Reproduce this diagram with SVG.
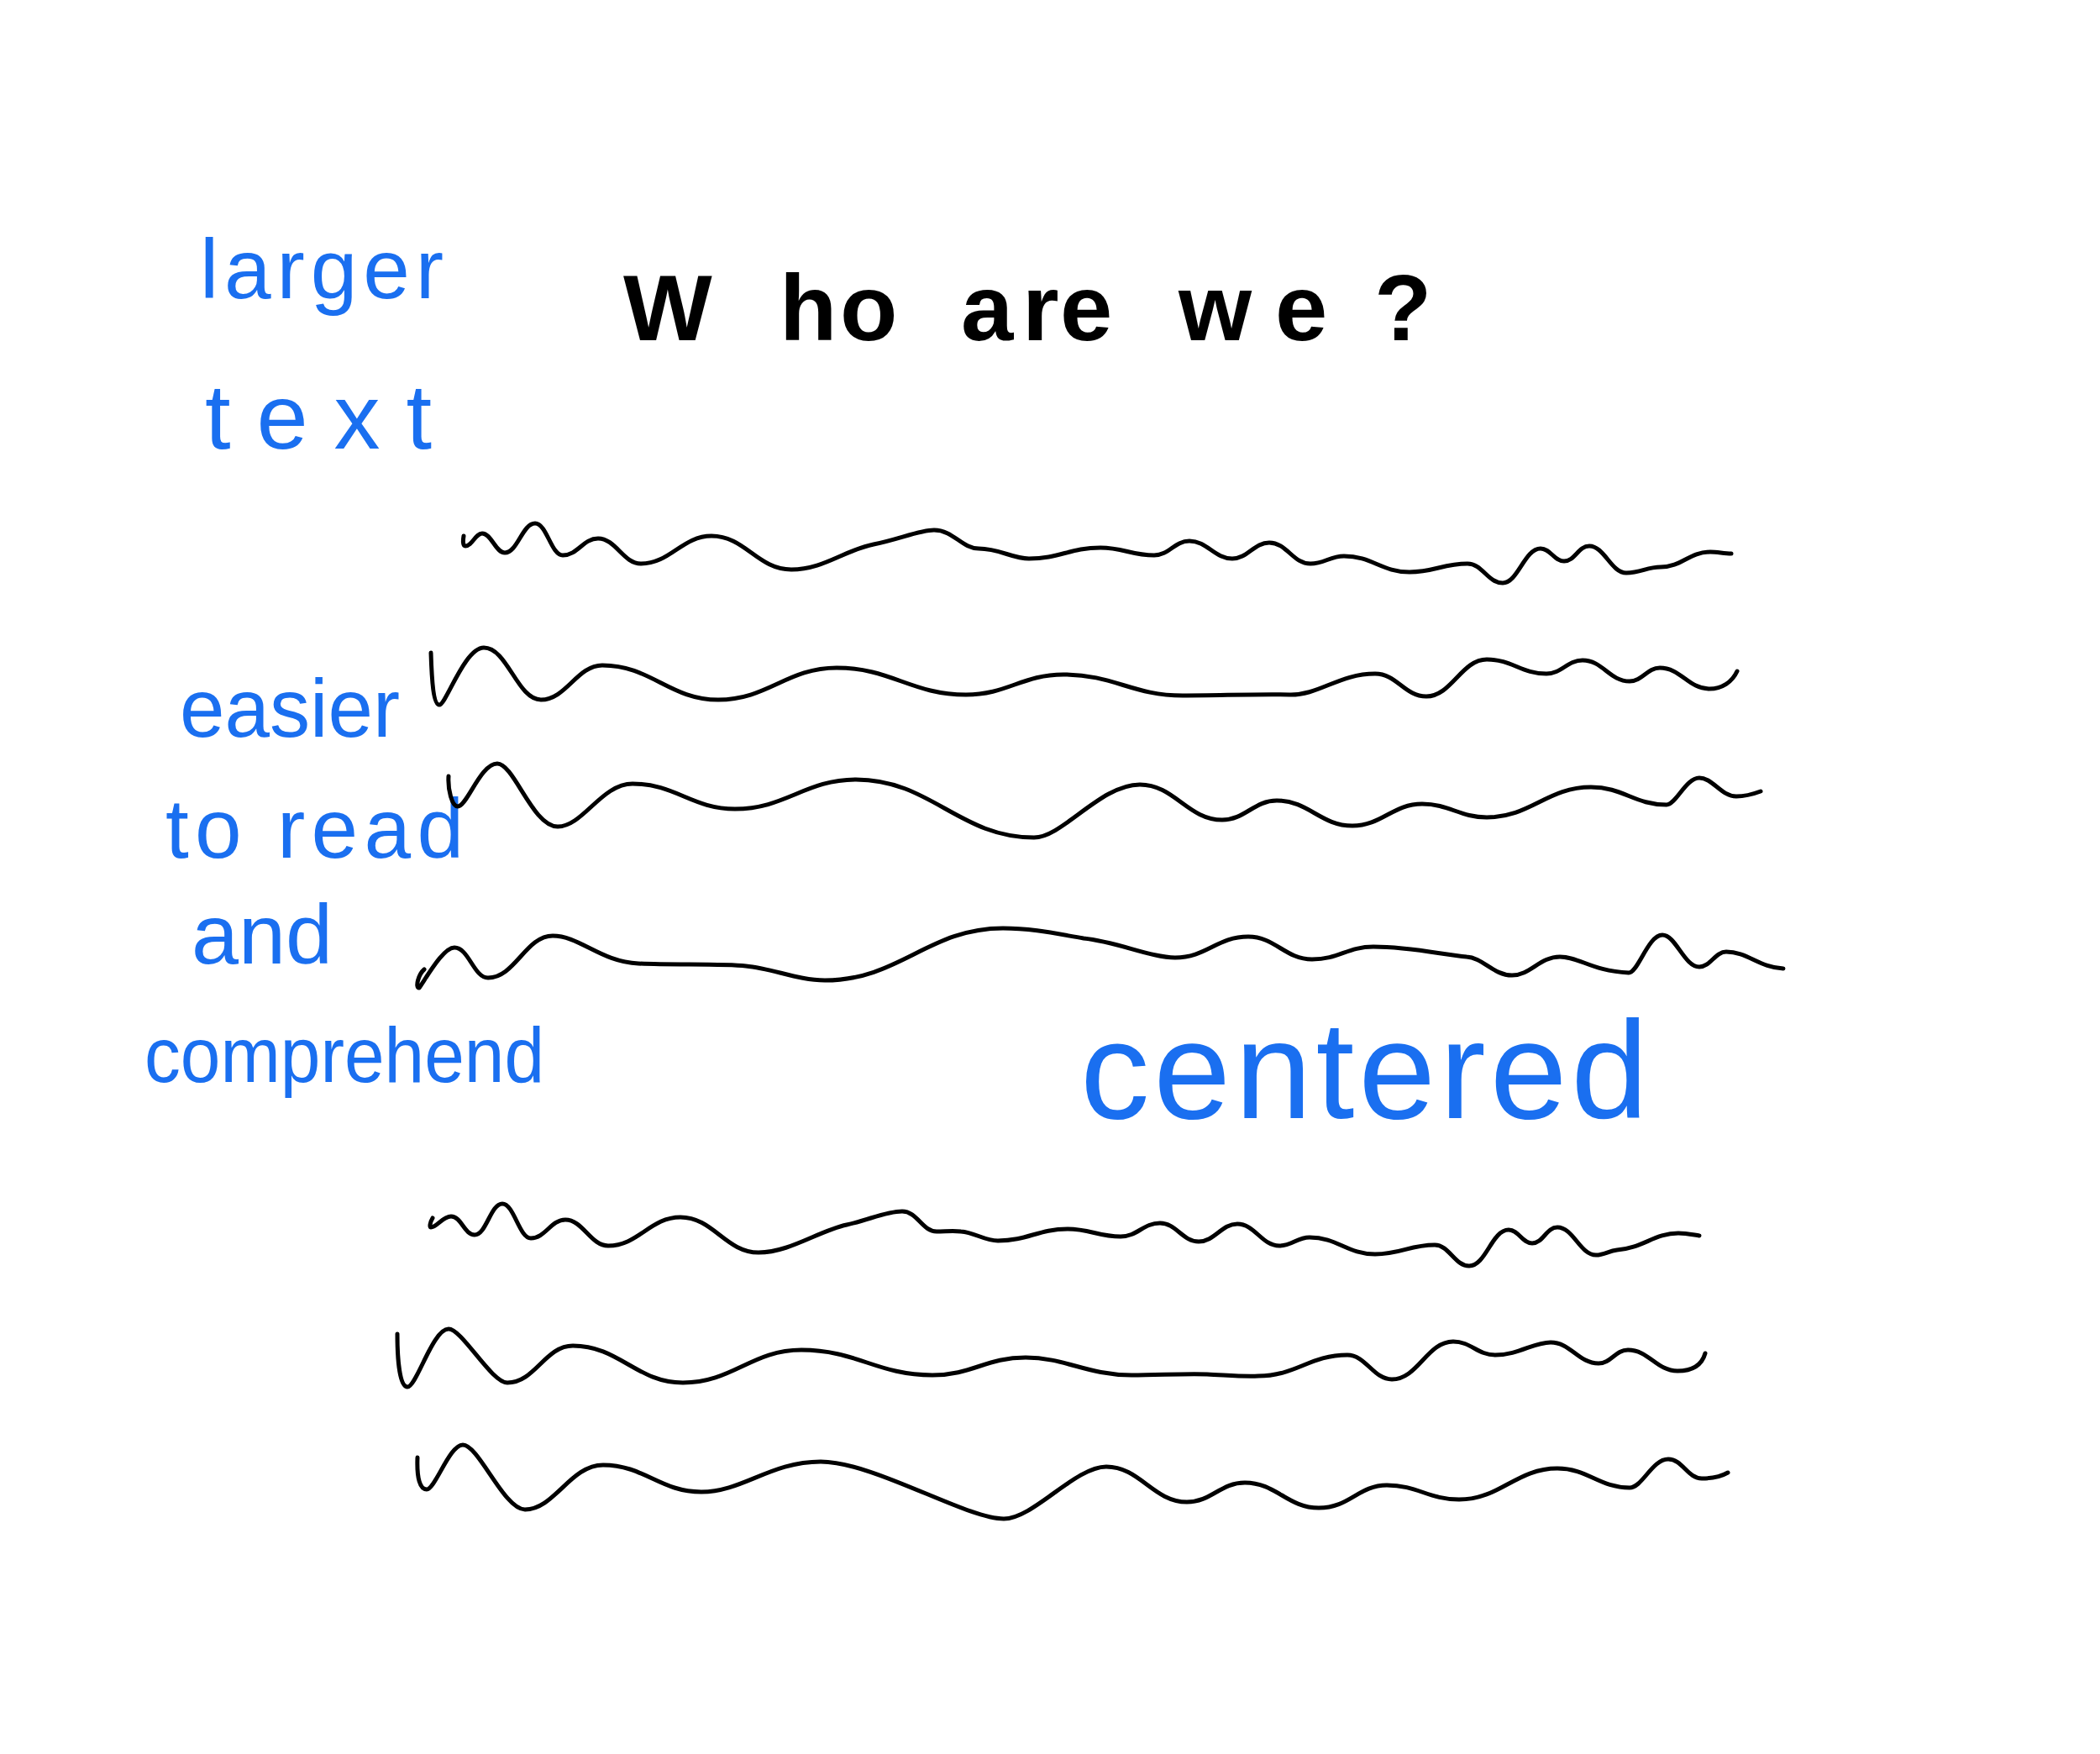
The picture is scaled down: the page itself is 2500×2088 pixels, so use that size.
<svg xmlns="http://www.w3.org/2000/svg" width="2500" height="2088" viewBox="0 0 2500 2088">
<style>
.w{fill:none;stroke:#000;stroke-width:5;stroke-linecap:round;stroke-linejoin:round}
.b{font-family:"Liberation Sans",Arial,sans-serif;fill:#1a6ff0}
.k{font-family:"Liberation Sans",Arial,sans-serif;fill:#000;font-weight:700}
</style>
<rect width="2500" height="2088" fill="#fff"/>
<g id="title"><text class="k" font-size="112" y="405"><tspan x="742 928 1000">Who</tspan> <tspan x="1144 1217 1262">are</tspan> <tspan x="1403 1518">we</tspan> <tspan x="1636">?</tspan></text></g>
<g id="label-larger-text">
<text class="b" font-size="100" y="355" x="238" textLength="290" lengthAdjust="spacing">larger</text>
<text class="b" font-size="110" y="534" x="244" textLength="270" lengthAdjust="spacing">text</text>
</g>
<g id="label-easier">
<text class="b" font-size="98" y="877" x="214" textLength="262" lengthAdjust="spacingAndGlyphs">easier</text>
<text class="b" font-size="100" y="1021" x="197" textLength="355" lengthAdjust="spacing">to read</text>
<text class="b" font-size="100" y="1147" x="228" textLength="168" lengthAdjust="spacingAndGlyphs">and</text>
<text class="b" font-size="92" y="1288" x="172" textLength="476" lengthAdjust="spacingAndGlyphs">comprehend</text>
</g>
<g id="label-centered"><text class="b" font-size="165" y="1331" x="1286" textLength="676" lengthAdjust="spacing">centered</text></g>
<g id="squiggles">
<path class="w" d="M552,638 C551,644 551,650 554,650 C562,650 566,635 574,635 C585,635 590,658 601,658 C616,658 622,623 637,623 C651,623 656,661 670,661 C688,661 694,641 712,641 C733,641 742,671 763,671 C798,671 812,638 847,638 C887,638 902,678 942,678 C980,678 1005,655 1040,648 C1070,642 1095,631 1112,631 C1135,631 1145,653 1165,653 C1190,653 1205,665 1225,665 C1261,665 1274,652 1310,652 C1337,652 1347,661 1374,661 C1392,661 1398,644 1416,644 C1437,644 1446,665 1467,665 C1485,665 1493,646 1511,646 C1532,646 1539,671 1560,671 C1577,671 1583,662 1600,662 C1633,662 1645,681 1678,681 C1707,681 1718,671 1747,671 C1765,671 1771,694 1789,694 C1807,694 1815,653 1834,653 C1846,653 1850,668 1862,668 C1875,668 1879,650 1892,650 C1910,650 1918,682 1936,682 C1954,682 1960,675 1977,675 C2002,675 2011,657 2036,657 C2045,657 2052,659 2061,659"/>
<path class="w" d="M513,777 C514,810 516,839 523,839 C531,839 553,771 576,771 C604,771 616,833 644,833 C674,833 687,792 717,792 C775,792 797,833 855,833 C914,833 937,795 996,795 C1061,795 1085,827 1150,827 C1199,827 1217,803 1266,803 C1326,803 1348,828 1408,828 C1450,828 1500,826 1535,827 C1570,828 1594,802 1637,802 C1663,802 1672,829 1698,829 C1728,829 1740,785 1770,785 C1800,785 1811,802 1841,802 C1859,802 1866,786 1884,786 C1908,786 1916,811 1940,811 C1955,811 1961,795 1976,795 C2001,795 2010,820 2035,820 C2050,820 2062,812 2068,799"/>
<path class="w" d="M534,924 C533,940 538,960 545,960 C556,960 572,909 592,909 C612,909 634,984 664,984 C694,984 716,933 753,933 C804,933 824,963 875,963 C935,963 959,928 1019,928 C1108,928 1142,997 1231,997 C1265,997 1310,934 1357,934 C1398,934 1414,976 1455,976 C1482,976 1493,953 1520,953 C1558,953 1572,983 1610,983 C1645,983 1658,957 1693,957 C1725,957 1738,973 1770,973 C1822,973 1842,937 1894,937 C1932,937 1946,958 1984,958 C1995,958 2007,926 2023,926 C2039,926 2049,948 2067,948 C2078,948 2088,945 2096,942"/>
<path class="w" d="M505,1154 C498,1160 494,1176 499,1176 C510,1160 528,1128 541,1128 C558,1128 564,1164 581,1164 C613,1164 626,1114 658,1114 C690,1114 715,1145 760,1147 C800,1149 860,1147 888,1150 C920,1153 950,1167 982,1167 C1071,1167 1105,1105 1194,1105 C1230,1105 1260,1112 1290,1117 C1330,1121 1370,1140 1399,1140 C1436,1140 1449,1115 1486,1115 C1518,1115 1530,1142 1562,1142 C1594,1142 1604,1127 1635,1127 C1680,1127 1720,1137 1746,1139 C1765,1140 1778,1161 1800,1161 C1822,1161 1833,1139 1857,1139 C1880,1139 1895,1156 1939,1158 C1950,1158 1962,1113 1979,1113 C1995,1113 2005,1151 2023,1151 C2036,1151 2042,1133 2055,1133 C2080,1133 2095,1152 2123,1153"/>
<path class="w" d="M515,1450 C512,1455 511,1461 513,1461 C520,1461 527,1448 537,1448 C549,1448 553,1470 565,1470 C579,1470 584,1433 598,1433 C612,1433 618,1474 632,1474 C649,1474 656,1452 673,1452 C694,1452 703,1483 724,1483 C760,1483 774,1449 810,1449 C849,1449 864,1491 903,1491 C940,1491 975,1465 1008,1458 C1035,1452 1055,1442 1074,1442 C1092,1442 1098,1466 1115,1466 C1125,1466 1135,1465 1144,1466 C1160,1467 1172,1477 1188,1477 C1223,1477 1236,1463 1271,1463 C1297,1463 1308,1472 1334,1472 C1354,1472 1361,1456 1381,1456 C1400,1456 1408,1478 1427,1478 C1446,1478 1454,1457 1473,1457 C1494,1457 1502,1483 1523,1483 C1538,1483 1544,1473 1559,1473 C1592,1473 1604,1493 1637,1493 C1668,1493 1678,1482 1708,1482 C1725,1482 1732,1507 1749,1507 C1769,1507 1776,1464 1796,1464 C1808,1464 1812,1480 1824,1480 C1837,1480 1841,1461 1854,1461 C1873,1461 1881,1494 1900,1494 C1910,1494 1915,1489 1925,1488 C1955,1486 1970,1468 1998,1468 C2008,1468 2016,1470 2023,1471"/>
<path class="w" d="M473,1588 C473,1620 476,1651 485,1651 C496,1651 515,1582 534,1582 C550,1582 585,1646 604,1646 C637,1646 649,1602 682,1602 C737,1602 758,1646 813,1646 C872,1646 895,1607 954,1607 C1020,1607 1044,1637 1110,1637 C1157,1637 1174,1616 1221,1616 C1268,1616 1294,1637 1347,1637 C1380,1637 1410,1635 1437,1636 C1460,1637 1480,1639 1498,1638 C1543,1638 1559,1613 1604,1613 C1626,1613 1635,1642 1657,1642 C1688,1642 1699,1597 1730,1597 C1751,1597 1759,1613 1780,1613 C1808,1613 1825,1598 1846,1598 C1870,1598 1879,1623 1903,1623 C1918,1623 1923,1607 1938,1607 C1963,1607 1972,1632 1997,1632 C2015,1632 2026,1625 2030,1611"/>
<path class="w" d="M497,1735 C496,1760 500,1773 508,1773 C518,1773 535,1720 551,1720 C570,1720 600,1797 625,1797 C660,1797 679,1744 718,1744 C767,1744 786,1776 835,1776 C884,1776 917,1740 977,1740 C1040,1740 1150,1808 1195,1808 C1230,1808 1280,1746 1317,1746 C1357,1746 1373,1788 1413,1788 C1442,1788 1453,1765 1482,1765 C1519,1765 1533,1795 1570,1795 C1607,1795 1617,1768 1651,1768 C1687,1768 1701,1785 1737,1785 C1786,1785 1805,1748 1854,1748 C1890,1748 1904,1771 1940,1771 C1955,1771 1967,1737 1986,1737 C2003,1737 2009,1760 2026,1760 C2040,1760 2050,1757 2057,1753"/>
</g>
</svg>
